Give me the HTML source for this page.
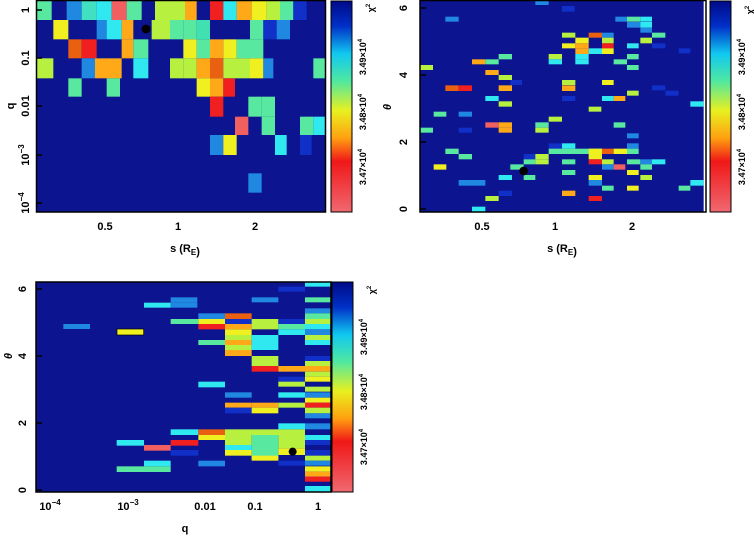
<!DOCTYPE html>
<html><head><meta charset="utf-8"><style>
html,body{margin:0;padding:0;background:#fff;width:754px;height:537px;overflow:hidden}
text{font-family:"Liberation Sans",sans-serif;font-weight:bold;fill:#000}
</style></head><body>
<svg width="754" height="537" viewBox="0 0 754 537" xmlns="http://www.w3.org/2000/svg">
<defs>
<linearGradient id="cb" x1="0" y1="0" x2="0" y2="1">
<stop offset="0" stop-color="#000a88"/>
<stop offset="0.12" stop-color="#0030c8"/>
<stop offset="0.25" stop-color="#10c8f0"/>
<stop offset="0.38" stop-color="#50e8a0"/>
<stop offset="0.52" stop-color="#e8f020"/>
<stop offset="0.65" stop-color="#ffa010"/>
<stop offset="0.76" stop-color="#f01818"/>
<stop offset="1" stop-color="#f06870"/>
</linearGradient>
<style>
.B{fill:#0c1490}.b{fill:#1030c8}.m{fill:#2088e0}.c{fill:#30e8f0}.g{fill:#58e8a0}.l{fill:#b8f040}.y{fill:#f0f020}.o{fill:#ffa818}.r{fill:#f02020}.p{fill:#f06060}.n{fill:#e86010}
</style>
</defs>

<!-- ========== TOP LEFT ========== -->
<g transform="scale(0.33333)">
<rect x="110" y="0" width="865" height="635" class="B"/>
<!-- row0 -->
<rect x="110" y="0" width="45" height="60" class="g"/><rect x="200" y="0" width="45" height="60" class="m"/><rect x="245" y="0" width="45" height="60" fill="#40e0c0"/><rect x="290" y="0" width="45" height="60" class="c"/><rect x="335" y="0" width="45" height="60" class="p"/><rect x="380" y="0" width="45" height="60" class="g"/><rect x="465" y="0" width="90" height="60" class="l"/><rect x="555" y="0" width="35" height="60" class="o"/><rect x="630" y="0" width="40" height="60" class="r"/><rect x="670" y="0" width="40" height="60" class="c"/><rect x="710" y="0" width="45" height="60" class="o"/><rect x="755" y="0" width="45" height="60" class="y"/><rect x="800" y="0" width="40" height="60" class="l"/><rect x="840" y="0" width="40" height="60" class="g"/><rect x="880" y="0" width="40" height="60" class="b"/>
<!-- row1 -->
<rect x="160" y="60" width="45" height="58" class="y"/><rect x="290" y="60" width="30" height="58" class="m"/><rect x="320" y="60" width="45" height="58" class="c"/><rect x="365" y="60" width="35" height="58" class="o"/><rect x="455" y="60" width="55" height="58" class="l"/><rect x="510" y="60" width="40" height="58" class="g"/><rect x="550" y="60" width="40" height="58" class="g"/><rect x="590" y="60" width="40" height="58" fill="#40e0b0"/><rect x="750" y="60" width="40" height="58" class="g"/><rect x="790" y="60" width="40" height="58" class="b"/><rect x="830" y="60" width="40" height="58" class="m"/>
<!-- row2 -->
<rect x="205" y="118" width="40" height="57" class="n"/><rect x="245" y="118" width="45" height="57" class="r"/><rect x="365" y="118" width="35" height="57" class="o"/><rect x="400" y="118" width="45" height="57" class="g"/><rect x="550" y="118" width="40" height="57" class="y"/><rect x="590" y="118" width="40" height="57" class="g"/><rect x="630" y="118" width="40" height="57" class="o"/><rect x="670" y="118" width="40" height="57" class="y"/><rect x="710" y="118" width="80" height="57" class="g"/>
<!-- row3 -->
<rect x="110" y="175" width="50" height="60" class="l"/><rect x="245" y="175" width="40" height="60" class="m"/><rect x="285" y="175" width="80" height="60" class="o"/><rect x="400" y="175" width="45" height="60" class="c"/><rect x="510" y="175" width="40" height="60" class="l"/><rect x="550" y="175" width="40" height="60" class="l"/><rect x="590" y="175" width="40" height="60" class="o"/><rect x="630" y="175" width="40" height="60" class="n"/><rect x="670" y="175" width="80" height="60" class="l"/><rect x="750" y="175" width="40" height="60" class="y"/><rect x="790" y="175" width="30" height="60" class="m"/><rect x="940" y="175" width="35" height="60" class="g"/>
<!-- row4 -->
<rect x="205" y="235" width="40" height="55" class="g"/><rect x="320" y="235" width="40" height="55" class="g"/><rect x="590" y="235" width="40" height="55" class="y"/><rect x="630" y="235" width="40" height="55" class="o"/><rect x="670" y="235" width="35" height="55" class="r"/>
<!-- row5 -->
<rect x="630" y="290" width="40" height="60" class="r"/><rect x="745" y="290" width="40" height="60" class="g"/><rect x="785" y="290" width="40" height="60" class="g"/>
<!-- row6 -->
<rect x="705" y="350" width="40" height="55" class="p"/><rect x="785" y="350" width="40" height="55" class="g"/><rect x="900" y="350" width="40" height="55" class="g"/><rect x="940" y="350" width="35" height="55" class="c"/>
<!-- row7 -->
<rect x="630" y="405" width="40" height="60" class="m"/><rect x="670" y="405" width="40" height="60" class="y"/><rect x="825" y="405" width="35" height="60" class="c"/><rect x="900" y="405" width="35" height="60" class="b"/>
<rect x="745" y="520" width="40" height="58" class="m"/>
<circle cx="438" cy="87" r="13" fill="#000"/>
</g>

<!-- ========== TOP RIGHT ========== -->
<g transform="translate(377,0) scale(0.33333)">
<rect x="130" y="0" width="850" height="635" class="B"/>
<g>
<rect x="475" y="0" width="40" height="15" class="m"/><rect x="555" y="18" width="38" height="17" class="b"/>
<rect x="205" y="50" width="40" height="15" class="m"/><rect x="715" y="50" width="35" height="15" class="m"/><rect x="750" y="50" width="40" height="15" class="g"/><rect x="790" y="50" width="35" height="15" class="c"/>
<rect x="750" y="66" width="40" height="17" class="m"/><rect x="790" y="66" width="35" height="17" class="c"/><rect x="790" y="83" width="35" height="15" class="m"/>
<rect x="555" y="98" width="40" height="15" class="l"/><rect x="635" y="98" width="40" height="15" class="n"/><rect x="675" y="98" width="35" height="15" class="m"/><rect x="825" y="98" width="40" height="15" class="g"/>
<rect x="595" y="113" width="40" height="17" class="y"/><rect x="675" y="113" width="35" height="17" class="l"/><rect x="790" y="113" width="35" height="17" class="l"/>
<rect x="555" y="130" width="40" height="15" class="y"/><rect x="595" y="130" width="40" height="15" class="o"/><rect x="675" y="130" width="35" height="15" class="r"/><rect x="750" y="130" width="35" height="15" class="c"/><rect x="825" y="130" width="40" height="15" class="b"/>
<rect x="595" y="145" width="40" height="17" class="o"/><rect x="635" y="145" width="40" height="17" class="c"/><rect x="675" y="145" width="35" height="17" class="y"/><rect x="905" y="145" width="35" height="15" class="b"/>
<rect x="365" y="162" width="40" height="16" class="g"/><rect x="515" y="162" width="40" height="16" class="l"/><rect x="595" y="162" width="40" height="16" class="c"/><rect x="750" y="162" width="35" height="16" class="g"/>
<rect x="285" y="178" width="40" height="15" class="o"/><rect x="325" y="178" width="40" height="15" class="g"/><rect x="515" y="178" width="40" height="15" class="c"/><rect x="595" y="178" width="40" height="15" class="c"/><rect x="710" y="178" width="40" height="15" class="g"/>
<rect x="130" y="195" width="38" height="15" class="l"/><rect x="750" y="195" width="35" height="15" class="g"/>
<rect x="325" y="210" width="40" height="15" class="o"/><rect x="365" y="225" width="40" height="15" class="l"/>
<rect x="400" y="240" width="35" height="15" class="b"/><rect x="555" y="240" width="40" height="15" class="l"/><rect x="675" y="240" width="35" height="15" class="y"/>
<rect x="205" y="256" width="40" height="17" class="n"/><rect x="245" y="256" width="40" height="17" class="r"/><rect x="365" y="256" width="40" height="17" class="o"/><rect x="555" y="256" width="40" height="17" class="o"/><rect x="825" y="256" width="40" height="15" class="b"/>
<rect x="750" y="272" width="35" height="15" class="l"/><rect x="865" y="272" width="40" height="15" class="b"/>
<rect x="325" y="288" width="40" height="15" class="c"/><rect x="555" y="288" width="40" height="15" class="b"/><rect x="675" y="288" width="35" height="15" class="c"/><rect x="710" y="288" width="35" height="15" class="o"/>
<rect x="365" y="304" width="40" height="16" class="l"/><rect x="940" y="304" width="40" height="16" class="c"/>
<rect x="635" y="320" width="38" height="15" class="l"/>
<rect x="170" y="335" width="38" height="15" class="g"/><rect x="245" y="335" width="40" height="15" class="m"/>
<rect x="515" y="350" width="40" height="15" class="l"/>
<rect x="325" y="367" width="40" height="16" class="p"/><rect x="365" y="367" width="40" height="16" class="o"/><rect x="475" y="367" width="40" height="16" class="g"/><rect x="710" y="367" width="35" height="16" class="g"/>
<rect x="130" y="383" width="38" height="15" class="g"/><rect x="245" y="383" width="40" height="15" class="b"/><rect x="365" y="383" width="40" height="15" class="o"/><rect x="475" y="383" width="40" height="15" class="l"/>
<rect x="750" y="400" width="35" height="15" class="m"/>
<rect x="515" y="430" width="40" height="16" class="b"/><rect x="555" y="430" width="40" height="16" class="c"/><rect x="750" y="430" width="35" height="16" class="m"/>
<rect x="205" y="446" width="40" height="16" class="g"/><rect x="515" y="446" width="160" height="16" class="g"/><rect x="635" y="446" width="40" height="16" class="y"/><rect x="675" y="446" width="35" height="16" class="n"/><rect x="710" y="446" width="40" height="16" class="y"/><rect x="750" y="446" width="35" height="16" class="g"/>
<rect x="245" y="462" width="40" height="16" class="g"/><rect x="440" y="462" width="35" height="16" class="b"/><rect x="475" y="462" width="40" height="16" class="l"/><rect x="635" y="462" width="40" height="16" class="y"/>
<rect x="440" y="478" width="35" height="15" class="g"/><rect x="475" y="478" width="40" height="15" class="l"/><rect x="555" y="478" width="40" height="15" class="g"/><rect x="635" y="478" width="40" height="15" class="r"/><rect x="675" y="478" width="35" height="15" class="l"/><rect x="750" y="478" width="40" height="15" class="g"/><rect x="790" y="478" width="35" height="15" class="m"/><rect x="825" y="478" width="40" height="15" class="c"/>
<rect x="170" y="493" width="38" height="16" class="y"/><rect x="400" y="493" width="40" height="16" class="g"/><rect x="675" y="493" width="35" height="16" class="m"/><rect x="710" y="493" width="35" height="16" class="p"/><rect x="790" y="493" width="35" height="16" class="g"/>
<rect x="555" y="510" width="40" height="15" class="g"/><rect x="750" y="510" width="35" height="15" class="y"/>
<rect x="365" y="525" width="40" height="15" class="c"/><rect x="440" y="525" width="35" height="15" class="g"/><rect x="635" y="525" width="40" height="15" class="y"/><rect x="790" y="525" width="35" height="15" class="l"/>
<rect x="245" y="540" width="80" height="17" class="m"/><rect x="635" y="540" width="40" height="17" class="m"/><rect x="940" y="540" width="40" height="17" class="c"/>
<rect x="675" y="557" width="35" height="15" class="g"/><rect x="750" y="557" width="35" height="15" class="y"/><rect x="905" y="557" width="35" height="15" class="g"/>
<rect x="365" y="572" width="40" height="16" class="b"/><rect x="555" y="572" width="40" height="16" class="o"/>
<rect x="325" y="588" width="40" height="15" class="l"/><rect x="635" y="588" width="40" height="15" class="r"/>
<rect x="285" y="620" width="40" height="15" class="c"/>
</g>
<circle cx="440" cy="513" r="13" fill="#000"/>
</g>

<!-- ========== BOTTOM ========== -->
<g transform="translate(0,270) scale(0.33333)">
<rect x="108" y="35" width="884" height="630" class="B"/>
<rect x="190" y="162" width="80" height="15" class="m"/>
<rect x="915" y="35" width="77" height="15" class="c"/><rect x="835" y="50" width="80" height="15" class="b"/>
<rect x="512" y="82" width="80" height="16" class="m"/><rect x="755" y="82" width="80" height="15" class="m"/><rect x="915" y="82" width="77" height="15" class="g"/>
<rect x="432" y="98" width="80" height="15" class="c"/><rect x="512" y="98" width="80" height="15" class="m"/>
<rect x="915" y="115" width="77" height="15" class="m"/>
<rect x="595" y="130" width="80" height="17" class="m"/><rect x="675" y="130" width="80" height="17" class="n"/><rect x="915" y="130" width="77" height="17" class="g"/>
<rect x="512" y="147" width="83" height="15" class="g"/><rect x="595" y="147" width="80" height="15" class="y"/><rect x="675" y="147" width="80" height="15" class="b"/><rect x="755" y="147" width="80" height="15" class="l"/><rect x="835" y="147" width="80" height="15" class="b"/><rect x="915" y="147" width="77" height="15" class="l"/>
<rect x="595" y="162" width="80" height="16" class="r"/><rect x="675" y="162" width="80" height="16" class="o"/><rect x="755" y="162" width="80" height="16" class="l"/><rect x="835" y="162" width="80" height="16" class="g"/><rect x="915" y="162" width="77" height="16" class="c"/>
<rect x="350" y="176" width="82" height="20" fill="#000"/><rect x="352" y="178" width="78" height="16" class="y"/><rect x="675" y="178" width="80" height="17" class="y"/><rect x="835" y="178" width="80" height="17" class="c"/><rect x="915" y="178" width="77" height="17" class="m"/>
<rect x="675" y="195" width="80" height="15" class="l"/><rect x="755" y="195" width="80" height="15" class="c"/><rect x="915" y="195" width="77" height="15" class="l"/>
<rect x="595" y="210" width="80" height="15" class="g"/><rect x="675" y="210" width="80" height="15" class="o"/><rect x="755" y="210" width="80" height="15" class="c"/><rect x="915" y="210" width="77" height="15" class="c"/>
<rect x="675" y="225" width="80" height="15" class="l"/><rect x="755" y="225" width="80" height="15" class="c"/>
<rect x="675" y="240" width="80" height="18" class="o"/>
<rect x="755" y="258" width="80" height="15" class="l"/><rect x="915" y="258" width="77" height="15" class="b"/>
<rect x="755" y="273" width="80" height="15" class="l"/><rect x="915" y="273" width="77" height="15" class="l"/>
<rect x="755" y="288" width="80" height="17" class="r"/><rect x="835" y="288" width="80" height="17" class="o"/><rect x="915" y="288" width="77" height="17" class="o"/>
<rect x="915" y="305" width="77" height="15" class="l"/>
<rect x="835" y="320" width="80" height="15" class="b"/><rect x="915" y="320" width="77" height="15" class="y"/>
<rect x="595" y="335" width="80" height="17" class="c"/><rect x="835" y="335" width="80" height="15" class="l"/>
<rect x="915" y="350" width="77" height="15" class="l"/>
<rect x="675" y="367" width="80" height="16" class="m"/><rect x="835" y="367" width="80" height="16" class="c"/><rect x="915" y="367" width="77" height="16" class="m"/>
<rect x="915" y="383" width="77" height="15" class="y"/>
<rect x="675" y="398" width="80" height="15" class="o"/><rect x="755" y="398" width="80" height="15" class="o"/><rect x="835" y="398" width="80" height="15" class="l"/><rect x="915" y="398" width="77" height="15" class="r"/>
<rect x="675" y="413" width="80" height="17" class="b"/><rect x="755" y="413" width="80" height="17" class="y"/><rect x="915" y="413" width="77" height="17" class="l"/>
<rect x="915" y="430" width="77" height="15" class="m"/>
<rect x="835" y="460" width="80" height="18" class="c"/><rect x="915" y="460" width="77" height="18" class="m"/>
<rect x="512" y="478" width="83" height="17" class="c"/><rect x="595" y="478" width="80" height="17" class="n"/><rect x="675" y="478" width="240" height="17" class="l"/>
<rect x="595" y="495" width="80" height="15" class="y"/><rect x="675" y="495" width="80" height="15" class="l"/><rect x="755" y="495" width="80" height="15" class="g"/><rect x="835" y="495" width="80" height="40" class="l"/><rect x="915" y="495" width="77" height="15" class="c"/>
<rect x="350" y="510" width="82" height="17" class="c"/><rect x="512" y="510" width="83" height="17" class="r"/><rect x="675" y="510" width="80" height="15" class="l"/><rect x="755" y="510" width="80" height="60" class="g"/><rect x="915" y="510" width="77" height="15" class="b"/>
<rect x="432" y="525" width="80" height="17" class="p"/><rect x="675" y="525" width="80" height="15" class="c"/>
<rect x="512" y="540" width="83" height="17" class="b"/><rect x="675" y="540" width="80" height="17" class="y"/><rect x="835" y="535" width="80" height="20" class="y"/><rect x="915" y="540" width="77" height="17" class="b"/>
<rect x="755" y="557" width="80" height="15" class="y"/><rect x="915" y="557" width="77" height="15" class="l"/>
<rect x="432" y="572" width="80" height="17" class="c"/><rect x="595" y="572" width="80" height="17" class="m"/><rect x="835" y="572" width="80" height="15" class="b"/><rect x="915" y="572" width="77" height="15" class="m"/>
<rect x="350" y="589" width="162" height="17" class="g"/><rect x="915" y="589" width="77" height="16" class="y"/>
<rect x="915" y="605" width="77" height="15" class="o"/><rect x="915" y="620" width="77" height="15" class="r"/>
<rect x="915" y="648" width="77" height="17" class="c"/>
<circle cx="878" cy="545" r="12" fill="#000"/>
</g>

<!-- frames, colorbars -->
<g fill="none" stroke="#000" stroke-width="1.5">
<rect x="36.5" y="0.5" width="289" height="211.5"/>
<rect x="420" y="0.5" width="286" height="211.5"/>
<rect x="36" y="282" width="295" height="210"/>
</g>
<rect x="331" y="1" width="21" height="211" fill="url(#cb)" stroke="#000"/>
<rect x="710" y="1" width="21" height="211" fill="url(#cb)" stroke="#000"/>
<rect x="332" y="282" width="21" height="210" fill="url(#cb)" stroke="#000"/>

<!-- tick marks -->
<g stroke="#000" stroke-width="1.5">
<line x1="36" y1="10" x2="42" y2="10"/><line x1="36" y1="58" x2="42" y2="58"/><line x1="36" y1="106" x2="42" y2="106"/><line x1="36" y1="155" x2="42" y2="155"/><line x1="36" y1="203" x2="42" y2="203"/>
<line x1="420" y1="8" x2="426" y2="8"/><line x1="420" y1="75" x2="426" y2="75"/><line x1="420" y1="142" x2="426" y2="142"/><line x1="420" y1="209" x2="426" y2="209"/>
<line x1="36" y1="289" x2="42" y2="289"/><line x1="36" y1="356" x2="42" y2="356"/><line x1="36" y1="423" x2="42" y2="423"/><line x1="36" y1="490" x2="42" y2="490"/>
</g>

<!-- labels top-left -->
<g font-size="11" text-anchor="middle">
<text x="105" y="230">0.5</text><text x="178" y="230">1</text><text x="255" y="230">2</text>
<text x="185" y="252">s (R<tspan font-size="8" dy="3">E</tspan>)</text>
<text transform="translate(25,10) rotate(-90)" dy="4">1</text>
<text transform="translate(25,58) rotate(-90)" dy="4">0.1</text>
<text transform="translate(25,106) rotate(-90)" dy="4">0.01</text>
<text transform="translate(25,155) rotate(-90)" dy="4">10<tspan font-size="8" dy="-5">−3</tspan></text>
<text transform="translate(25,203) rotate(-90)" dy="4">10<tspan font-size="8" dy="-5">−4</tspan></text>
<text transform="translate(10,106) rotate(-90)" dy="4">q</text>

<text x="482" y="230">0.5</text><text x="555" y="230">1</text><text x="632" y="230">2</text>
<text x="562" y="252">s (R<tspan font-size="8" dy="3">E</tspan>)</text>
<text transform="translate(403,8) rotate(-90)" dy="4">6</text>
<text transform="translate(403,75) rotate(-90)" dy="4">4</text>
<text transform="translate(403,142) rotate(-90)" dy="4">2</text>
<text transform="translate(403,209) rotate(-90)" dy="4">0</text>
<text transform="translate(387,107) rotate(-90)" dy="4" font-style="italic">θ</text>

<text x="50" y="510">10<tspan font-size="8" dy="-5">−4</tspan></text>
<text x="128" y="510">10<tspan font-size="8" dy="-5">−3</tspan></text>
<text x="205" y="510">0.01</text><text x="255" y="510">0.1</text><text x="318" y="510">1</text>
<text x="185" y="532">q</text>
<text transform="translate(22,289) rotate(-90)" dy="4">6</text>
<text transform="translate(22,356) rotate(-90)" dy="4">4</text>
<text transform="translate(22,423) rotate(-90)" dy="4">2</text>
<text transform="translate(22,490) rotate(-90)" dy="4">0</text>
<text transform="translate(8,356) rotate(-90)" dy="4" font-style="italic">θ</text>
</g>

<!-- colorbar labels -->
<g font-size="9" text-anchor="middle">
<text transform="translate(363,57) rotate(-90)" dy="3">3.49×10<tspan font-size="6" dy="-4">4</tspan></text>
<text transform="translate(363,112) rotate(-90)" dy="3">3.48×10<tspan font-size="6" dy="-4">4</tspan></text>
<text transform="translate(363,167) rotate(-90)" dy="3">3.47×10<tspan font-size="6" dy="-4">4</tspan></text>
<text transform="translate(371,8) rotate(-90)" dy="3">χ<tspan font-size="6" dy="-4">2</tspan></text>
<text transform="translate(742,57) rotate(-90)" dy="3">3.49×10<tspan font-size="6" dy="-4">4</tspan></text>
<text transform="translate(742,112) rotate(-90)" dy="3">3.48×10<tspan font-size="6" dy="-4">4</tspan></text>
<text transform="translate(742,167) rotate(-90)" dy="3">3.47×10<tspan font-size="6" dy="-4">4</tspan></text>
<text transform="translate(750,10) rotate(-90)" dy="3">χ<tspan font-size="6" dy="-4">2</tspan></text>
<text transform="translate(364,337) rotate(-90)" dy="3">3.49×10<tspan font-size="6" dy="-4">4</tspan></text>
<text transform="translate(364,392) rotate(-90)" dy="3">3.48×10<tspan font-size="6" dy="-4">4</tspan></text>
<text transform="translate(364,447) rotate(-90)" dy="3">3.47×10<tspan font-size="6" dy="-4">4</tspan></text>
<text transform="translate(372,290) rotate(-90)" dy="3">χ<tspan font-size="6" dy="-4">2</tspan></text>
</g>
</svg>
</body></html>
